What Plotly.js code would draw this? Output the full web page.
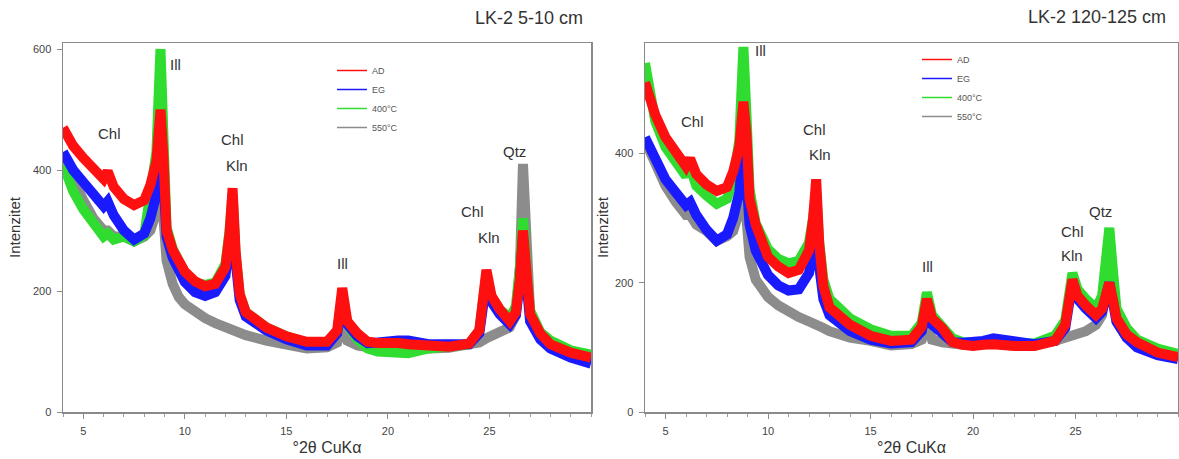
<!DOCTYPE html>
<html><head><meta charset="utf-8">
<script src="https://cdn.plot.ly/plotly-3.0.1.min.js"></script>
<style>html,body{margin:0;padding:0;background:#fff;} #chart{width:1179px;height:459px;}</style>
</head><body><div id="chart"></div>
<script>
// ---- data (°2θ CuKα grid shared by all patterns) ----
const TWO_THETA = [4, 4.5, 5, 5.5, 6, 6.2, 6.5, 7, 7.5, 8, 8.3, 8.6, 8.8, 8.95, 9.1, 9.4, 9.7, 10, 10.5, 11, 11.5, 12, 12.2, 12.35, 12.5, 12.7, 13, 14, 15, 16, 17, 17.5, 17.75, 18, 18.5, 19, 19.5, 20, 20.5, 21, 22, 23, 24, 24.5, 24.85, 25.1, 25.5, 26, 26.3, 26.5, 26.65, 26.85, 27, 27.5, 28, 29, 30];

// LK-2 5-10 cm
const LEFT_AD  = [470, 440, 420, 400, 385, 398, 372, 352, 342, 350, 375, 415, 500, 420, 300, 268, 250, 232, 216, 208, 212, 240, 295, 370, 265, 195, 165, 140, 125, 116, 116, 135, 205, 150, 130, 116, 114, 116, 114, 112, 108, 108, 113, 135, 235, 192, 170, 150, 165, 220, 300, 215, 162, 130, 112, 98, 90];
const LEFT_EG  = [430, 400, 380, 360, 340, 348, 325, 300, 285, 295, 320, 360, 440, 380, 290, 255, 238, 215, 198, 192, 198, 225, 280, 340, 250, 185, 158, 135, 120, 110, 110, 130, 185, 145, 125, 114, 115, 118, 118, 118, 112, 112, 112, 130, 215, 182, 162, 145, 160, 215, 290, 205, 150, 120, 105, 90, 80];
const LEFT_400 = [410, 365, 335, 310, 290, 295, 285, 290, 282, 292, 360, 430, 600, 450, 305, 270, 252, 230, 214, 210, 214, 245, 300, 360, 260, 195, 165, 140, 125, 115, 115, 130, 195, 145, 120, 105, 100, 100, 97, 97, 105, 108, 112, 135, 228, 190, 170, 155, 175, 240, 320, 225, 168, 132, 118, 102, 95];
const LEFT_550 = [420, 380, 350, 320, 300, 300, 290, 290, 282, 290, 300, 330, 380, 320, 250, 212, 190, 178, 165, 155, 147, 140, 138, 137, 135, 132, 127, 118, 110, 105, 107, 115, 150, 118, 110, 105, 104, 105, 104, 104, 105, 106, 110, 115, 122, 125, 130, 140, 160, 240, 410, 230, 165, 125, 112, 98, 90];

// LK-2 120-125 cm
const RIGHT_AD  = [510, 460, 425, 400, 380, 392, 368, 352, 342, 348, 372, 410, 480, 430, 330, 290, 265, 240, 225, 215, 220, 250, 300, 360, 260, 195, 162, 135, 118, 110, 112, 132, 175, 145, 130, 108, 104, 102, 104, 105, 102, 102, 110, 135, 205, 180, 165, 150, 160, 185, 200, 170, 145, 120, 108, 92, 85];
const RIGHT_EG  = [425, 390, 360, 340, 320, 325, 305, 282, 265, 275, 300, 340, 410, 360, 290, 250, 232, 212, 196, 188, 190, 215, 250, 290, 225, 175, 150, 125, 112, 106, 108, 125, 165, 135, 122, 108, 107, 107, 110, 114, 108, 105, 110, 130, 200, 175, 160, 145, 155, 180, 200, 165, 140, 115, 100, 88, 82];
const RIGHT_400 = [540, 450, 410, 385, 365, 380, 350, 335, 322, 330, 360, 420, 565, 460, 345, 292, 270, 252, 237, 230, 234, 262, 300, 340, 262, 205, 175, 145, 128, 118, 118, 138, 185, 150, 132, 114, 108, 106, 106, 108, 106, 106, 118, 142, 215, 190, 175, 160, 180, 230, 285, 210, 160, 130, 112, 98, 90];
const RIGHT_550 = [420, 380, 350, 325, 305, 305, 290, 280, 265, 272, 280, 310, 360, 300, 240, 205, 190, 178, 165, 155, 147, 140, 138, 137, 135, 130, 125, 115, 110, 103, 105, 112, 140, 112, 108, 105, 104, 105, 104, 106, 105, 105, 110, 114, 118, 120, 125, 135, 150, 200, 250, 180, 140, 115, 105, 92, 85];

const SERIES_NAMES = ['AD', 'EG', '400°C', '550°C'];
const PANEL_TITLES = ['LK-2 5-10 cm', 'LK-2 120-125 cm'];
const X_TICKS = [5, 10, 15, 20, 25];
const LEFT_Y_TICKS = [0, 200, 400, 600];
const RIGHT_Y_TICKS = [0, 200, 400];
const PEAK_LABELS = ['Chl', 'Ill', 'Chl', 'Kln', 'Ill', 'Chl', 'Kln', 'Qtz'];
const X_TITLE = '°2θ CuKα';
const Y_TITLE = 'Intenzitet';

// ---- styling / geometry ----
const COLORS = ['#ff1010', '#1a1aff', '#2fdc2f', '#8c8c8c'];
const FONT = 'Liberation Sans, Arial, sans-serif';
const W = 1179, H = 459;
const M = {l: 63, r: 1, t: 43, b: 47};
const PW = W - M.l - M.r, PH = H - M.t - M.b;
const px2x = px => (px - M.l) / PW;
const py2y = py => 1 - (py - M.t) / PH;

const panels = [
  {ser: [LEFT_AD, LEFT_EG, LEFT_400, LEFT_550], xa: 'x', ya: 'y', legend: 'legend'},
  {ser: [RIGHT_AD, RIGHT_EG, RIGHT_400, RIGHT_550], xa: 'x2', ya: 'y2', legend: 'legend2'}
];

const traces = [];
panels.forEach(p => {
  // draw order: 550, 400, EG, AD (AD on top)
  [3, 2, 1, 0].forEach(i => {
    traces.push({type: 'scatter', mode: 'lines', x: TWO_THETA, y: p.ser[i], xaxis: p.xa, yaxis: p.ya,
      line: {color: COLORS[i], width: 10, shape: 'linear'}, showlegend: false, hoverinfo: 'skip', name: SERIES_NAMES[i]});
  });
  // legend entries (thin line samples)
  [0, 1, 2, 3].forEach(i => {
    traces.push({type: 'scatter', mode: 'lines', x: [-10, -9], y: [-10, -10], xaxis: p.xa, yaxis: p.ya,
      line: {color: COLORS[i], width: 1.5}, name: SERIES_NAMES[i], legend: p.legend, showlegend: true});
  });
});

const axBase = {
  showline: true, mirror: true, linecolor: '#8a8a8a', linewidth: 1.5,
  ticks: 'outside', ticklen: 5, tickwidth: 1, tickcolor: '#8a8a8a',
  showgrid: false, zeroline: false, fixedrange: true,
  tickfont: {family: FONT, size: 11, color: '#444'}
};
const xAx = (dom, anchor) => Object.assign({}, axBase, {
  domain: dom, anchor: anchor, range: [4, 30], tickvals: X_TICKS, ticklabelstandoff: 3,
  minor: {dtick: 1, tick0: 0, ticks: 'outside', ticklen: 3, tickcolor: '#9a9a9a', showgrid: false},
  title: {text: X_TITLE, font: {family: FONT, size: 16, color: '#333'}, standoff: 6}
});
const yAx = (range, ticks, anchor, standoff) => Object.assign({}, axBase, {
  domain: [0, 1], anchor: anchor, range: range, tickvals: ticks, ticklabelstandoff: 3,
  title: {text: Y_TITLE, font: {family: FONT, size: 15, color: '#333'}, standoff: standoff}
});

const peakPos = [
  [[6.3, 461], [9.55, 575], [12.33, 450], [12.57, 408], [17.74, 246], [24.15, 331], [24.99, 288], [26.22, 431]],
  [[6.3, 449], [9.62, 560], [12.29, 437], [12.55, 398], [17.8, 225], [24.83, 279], [24.83, 242], [26.2, 310]]
];
const annotations = [];
peakPos.forEach((arr, k) => {
  arr.forEach((pos, j) => {
    annotations.push({text: PEAK_LABELS[j], x: pos[0], y: pos[1], xref: k ? 'x2' : 'x', yref: k ? 'y2' : 'y',
      showarrow: false, font: {family: FONT, size: 15, color: '#333'}});
  });
});
annotations.push({text: PANEL_TITLES[0], xref: 'paper', yref: 'paper', x: px2x(585), y: py2y(18),
  xanchor: 'right', yanchor: 'middle', showarrow: false, font: {family: FONT, size: 18, color: '#333'}});
annotations.push({text: PANEL_TITLES[1], xref: 'paper', yref: 'paper', x: px2x(1168), y: py2y(17),
  xanchor: 'right', yanchor: 'middle', showarrow: false, font: {family: FONT, size: 18, color: '#333'}});

const legBase = {font: {family: FONT, size: 9, color: '#555'}, bgcolor: 'rgba(0,0,0,0)', itemwidth: 30,
  xanchor: 'left', yanchor: 'top', tracegroupgap: 0};

const layout = {
  width: W, height: H, margin: M, paper_bgcolor: '#fff', plot_bgcolor: '#fff',
  font: {family: FONT},
  xaxis: xAx([0, px2x(591)], 'y'),
  yaxis: yAx([0, 610], LEFT_Y_TICKS, 'x', 8),
  xaxis2: xAx([px2x(645), 1], 'y2'),
  yaxis2: yAx([0, 571], RIGHT_Y_TICKS, 'x2', 2),
  legend: Object.assign({}, legBase, {x: px2x(332), y: py2y(56)}),
  legend2: Object.assign({}, legBase, {x: px2x(917), y: py2y(45)}),
  annotations: annotations
};

Plotly.newPlot('chart', traces, layout, {staticPlot: true, displayModeBar: false});
</script>
</body></html>
